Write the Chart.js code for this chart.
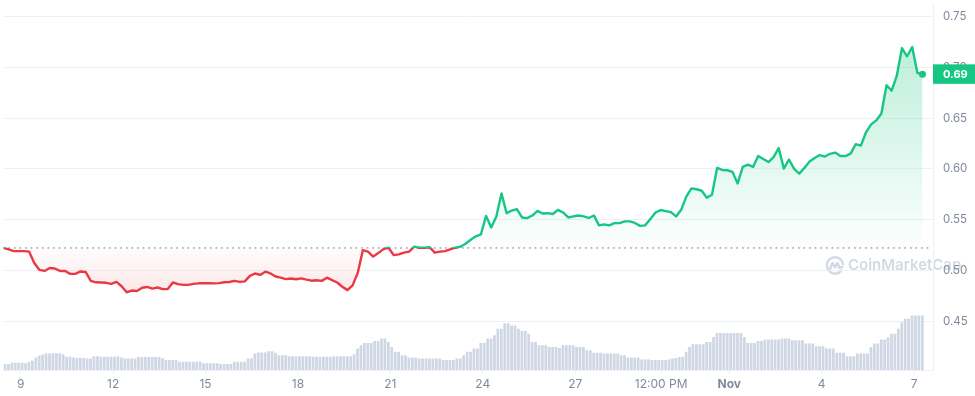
<!DOCTYPE html>
<html>
<head>
<meta charset="utf-8">
<script src="https://cdn.jsdelivr.net/npm/chart.js@4.4.1/dist/chart.umd.min.js"></script>
<style>
  html, body { margin: 0; padding: 0; background: #fff; }
</style>
</head>
<body>
<canvas id="chartPrice" width="975" height="396"></canvas>
<script>
// x axis is a day number counted from Oct 1 (so Nov 1 = 32, Nov 7 = 38)
const xTickDays = [9, 12, 15, 18, 21, 24, 27, 29.79, 32, 35, 38];
const xTickLabels = ['9', '12', '15', '18', '21', '24', '27', '12:00 PM', 'Nov', '4', '7'];
const yTickValues = [0.45, 0.50, 0.55, 0.60, 0.65, 0.70, 0.75];

// price (USD), one point every 4 hours
const priceStartDay = 8.44;
const priceStepDays = 1 / 6;
const prices = [
  0.5222, 0.5207, 0.5190, 0.5190, 0.5190, 0.5185, 0.5073, 0.5005, 0.4995, 0.5024,
  0.5019, 0.4995, 0.4995, 0.4966, 0.4966, 0.4990, 0.4985, 0.4897, 0.4883, 0.4881,
  0.4878, 0.4868, 0.4887, 0.4844, 0.4785, 0.4802, 0.4798, 0.4829, 0.4837, 0.4821,
  0.4832, 0.4816, 0.4816, 0.4881, 0.4865, 0.4858, 0.4858, 0.4868, 0.4873, 0.4873,
  0.4873, 0.4872, 0.4875, 0.4883, 0.4886, 0.4897, 0.4887, 0.4892, 0.4946, 0.4970,
  0.4956, 0.4988, 0.4970, 0.4940, 0.4929, 0.4914, 0.4920, 0.4913, 0.4922, 0.4909,
  0.4899, 0.4903, 0.4897, 0.4929, 0.4904, 0.4881, 0.4839, 0.4806, 0.4853, 0.4975,
  0.5200, 0.5185, 0.5136, 0.5171, 0.5210, 0.5224, 0.5151, 0.5158, 0.5175, 0.5185,
  0.5234, 0.5224, 0.5224, 0.5229, 0.5175, 0.5185, 0.5190, 0.5207, 0.5224, 0.5234,
  0.5263, 0.5302, 0.5336, 0.5356, 0.5537, 0.5424, 0.5532, 0.5759, 0.5564, 0.5590,
  0.5605, 0.5522, 0.5515, 0.5541, 0.5587, 0.5561, 0.5564, 0.5556, 0.5597, 0.5571,
  0.5522, 0.5532, 0.5541, 0.5532, 0.5517, 0.5541, 0.5444, 0.5454, 0.5444, 0.5466,
  0.5466, 0.5483, 0.5483, 0.5468, 0.5439, 0.5444, 0.5507, 0.5571, 0.5595, 0.5585,
  0.5574, 0.5532, 0.5597, 0.5727, 0.5808, 0.5800, 0.5785, 0.5717, 0.5746, 0.6010,
  0.5990, 0.5987, 0.5971, 0.5857, 0.6020, 0.6042, 0.6020, 0.6127, 0.6098, 0.6068,
  0.6117, 0.6205, 0.6003, 0.6093, 0.6000, 0.5954, 0.6010, 0.6073, 0.6107, 0.6137,
  0.6122, 0.6149, 0.6161, 0.6127, 0.6127, 0.6151, 0.6244, 0.6229, 0.6361, 0.6439,
  0.6478, 0.6547, 0.6825, 0.6771, 0.6918, 0.7191, 0.7110, 0.7201, 0.6947, 0.6932
];

// volume (M USD), one bar every 2h40
const volumeStartDay = 8.49;
const volumeStepDays = 1 / 9;
const volumes = [
  6, 6, 7.3, 7.3, 7.3, 7.3, 6.7, 8, 9.3, 12.5,
  14.7, 15.7, 16.7, 16.7, 17, 17, 17, 16, 13.5, 13.3,
  12.7, 12, 12, 12, 11.7, 11.7, 14, 14, 13.3, 13.3,
  13.3, 13.3, 13.3, 14, 12.7, 11.7, 11.7, 11.7, 11.7, 13,
  13, 13, 13, 13, 13, 13, 12, 10, 10, 10,
  10, 8.3, 8.3, 8.3, 8.3, 8.3, 8.3, 8.3, 6.7, 6.7,
  6.7, 6.7, 6.7, 6, 6, 6, 6, 8.3, 8.3, 8.3,
  8.3, 11.7, 11.7, 16.7, 17.7, 17.7, 17.7, 19, 19, 17.3,
  15, 15, 15, 14, 14, 14, 14, 14, 14, 14,
  13.3, 13.3, 13.3, 13.3, 13.3, 13.3, 14, 14, 14, 14,
  14, 14, 16, 21.7, 25, 27.3, 27.3, 27.3, 29.3, 29.3,
  31.7, 31.7, 28.3, 23.3, 18.3, 18.3, 15, 15, 12.7, 12.7,
  12.7, 11.7, 11.7, 11.7, 11.7, 11.7, 11.7, 11.7, 10, 10,
  10, 10, 11.7, 11.7, 15, 18.3, 18.3, 21.7, 21.7, 27.3,
  27.3, 31.7, 31.7, 35, 41.7, 41.7, 47.3, 47.3, 45, 45,
  41.7, 39.3, 39.3, 36.7, 28.3, 28.3, 25, 25, 25, 23.3,
  23.3, 23.3, 22.3, 25, 25, 25, 25, 23.3, 23.3, 23.3,
  20, 20, 17.3, 17.3, 17.3, 16.7, 16.7, 16.7, 16.7, 16.7,
  15, 15, 12.7, 12.7, 12.7, 12.7, 10.7, 10.7, 10.7, 10,
  10, 10, 10, 10, 10.7, 11.5, 12, 13, 13.3, 18.3,
  23.3, 26, 26, 26, 26, 28.3, 28.3, 33.3, 37.3, 37.3,
  37.3, 37.3, 37.3, 37.3, 37.3, 37.3, 33.3, 27.3, 27.3, 27.3,
  29.3, 29.3, 30.7, 30.7, 30.7, 30.7, 30.7, 31.7, 31.7, 31.7,
  30, 30, 30, 30, 26.7, 26.7, 26.7, 24, 24, 24,
  21.7, 21.7, 21.7, 17.3, 17.3, 17.3, 14, 14, 14, 16.7,
  16.7, 16.7, 16.7, 23.3, 26.7, 26.7, 30.7, 30.7, 33, 36.7,
  36.7, 41.7, 48.3, 51.7, 51.7, 55, 55, 55, 55
];

const GREEN = '#16c784';
const RED = '#ea3943';
const TEXT = '#808a9d';
const GRID = '#eff2f5';

const X_MIN = 8.4405;
const X_MAX = 38.615;
const Y_MIN = 0.4019;
const Y_MAX = 0.7630;

const baseline = prices[0];
const lastPrice = prices[prices.length - 1];

const priceData = prices.map((p, i) => ({ x: priceStartDay + i * priceStepDays, y: p }));
const volumeData = volumes.map((v, i) => ({ x: volumeStartDay + i * volumeStepDays, y: v }));

function baselineStop(chart) {
  const area = chart.chartArea;
  const y0 = chart.scales.y.getPixelForValue(baseline);
  return Math.min(1, Math.max(0, (y0 - area.top) / (area.bottom - area.top)));
}

// green above the opening price, red below
function lineColor(ctx) {
  const chart = ctx.chart;
  const area = chart.chartArea;
  if (!area) return GREEN;
  const f = baselineStop(chart);
  const g = chart.ctx.createLinearGradient(0, area.top, 0, area.bottom);
  g.addColorStop(0, GREEN);
  g.addColorStop(f, GREEN);
  g.addColorStop(f, RED);
  g.addColorStop(1, RED);
  return g;
}

function fillColor(ctx) {
  const chart = ctx.chart;
  const area = chart.chartArea;
  if (!area) return 'rgba(22,199,132,0.1)';
  const f = baselineStop(chart);
  const g = chart.ctx.createLinearGradient(0, area.top, 0, area.bottom);
  g.addColorStop(0, 'rgba(22,199,132,0.34)');
  g.addColorStop(f, 'rgba(22,199,132,0.01)');
  g.addColorStop(f, 'rgba(234,57,67,0.01)');
  g.addColorStop(1, 'rgba(234,57,67,0.30)');
  return g;
}

// faint CoinMarketCap watermark, under everything
const watermark = {
  id: 'watermark',
  beforeDraw(chart) {
    const c = chart.ctx;
    const area = chart.chartArea;
    const cx = area.right - 98;
    const cy = chart.scales.y.getPixelForValue(0.5) - 5;
    c.save();
    c.strokeStyle = '#d3d9e4';
    c.lineWidth = 2.4;
    c.lineCap = 'round';
    c.lineJoin = 'round';
    c.beginPath();
    c.arc(cx, cy, 8.2, 0.2 * Math.PI, 1.95 * Math.PI, false);
    c.stroke();
    c.beginPath();
    c.moveTo(cx - 5, cy + 3.5);
    c.lineTo(cx - 2.5, cy - 2.5);
    c.lineTo(cx, cy + 2);
    c.lineTo(cx + 2.5, cy - 2.5);
    c.lineTo(cx + 4.5, cy + 2.5);
    c.lineTo(cx + 7.5, cy + 1.5);
    c.stroke();
    c.fillStyle = '#d3d9e4';
    c.font = '600 15px Inter';
    c.textBaseline = 'middle';
    c.fillText('CoinMarketCap', cx + 13, cy + 0.5);
    c.restore();
  }
};

// current price tag on the right axis
const priceTag = {
  id: 'priceTag',
  afterDraw(chart) {
    const c = chart.ctx;
    const area = chart.chartArea;
    const y = chart.scales.y.getPixelForValue(lastPrice);
    c.save();
    c.fillStyle = GREEN;
    c.fillRect(area.right, y - 10, 42, 19.5);
    c.fillStyle = '#ffffff';
    c.font = 'bold 11px Inter';
    c.textBaseline = 'middle';
    c.fillText(lastPrice.toFixed(2), area.right + 10, y);
    c.restore();
  }
};

new Chart(document.getElementById('chartPrice'), {
  type: 'line',
  data: {
    datasets: [
      {
        label: 'Price',
        data: priceData,
        borderColor: lineColor,
        backgroundColor: fillColor,
        borderWidth: 2.4,
        borderJoinStyle: 'round',
        tension: 0,
        fill: { target: { value: baseline } },
        pointRadius: ctx => (ctx.dataIndex === prices.length - 1 ? 3.5 : 0),
        pointBackgroundColor: GREEN,
        pointBorderWidth: 0,
        pointHoverRadius: 0,
        order: 0
      },
      {
        label: 'Open',
        data: [{ x: X_MIN, y: baseline }, { x: X_MAX, y: baseline }],
        borderColor: '#a1a7bb',
        borderWidth: 1.8,
        borderDash: [0.1, 5.5],
        borderCapStyle: 'round',
        pointRadius: 0,
        fill: false,
        order: 1
      },
      {
        type: 'bar',
        label: 'Volume',
        data: volumeData,
        yAxisID: 'yv',
        backgroundColor: '#cfd6e4',
        barPercentage: 0.8,
        categoryPercentage: 1,
        order: 2
      }
    ]
  },
  options: {
    responsive: false,
    animation: false,
    events: [],
    layout: { padding: 0 },
    plugins: { legend: { display: false }, tooltip: { enabled: false } },
    scales: {
      x: {
        type: 'linear',
        min: X_MIN,
        max: X_MAX,
        offset: false,
        grid: { display: true, drawOnChartArea: false, drawTicks: true, tickLength: 4, color: GRID, offset: false },
        border: { display: true, color: GRID },
        ticks: {
          autoSkip: false,
          maxRotation: 0,
          padding: 3,
          color: TEXT,
          font: ctx => ({ family: 'Inter', size: 12, weight: xTickLabels[ctx.index] === 'Nov' ? 'bold' : 'normal' }),
          callback: (v, i) => xTickLabels[i]
        },
        afterBuildTicks: s => { s.ticks = xTickDays.map(v => ({ value: v })); },
        afterFit: s => { s.height = 26; }
      },
      y: {
        position: 'right',
        min: Y_MIN,
        max: Y_MAX,
        grid: { color: GRID, drawTicks: false },
        border: { display: true, color: GRID },
        ticks: {
          padding: 10,
          color: TEXT,
          font: { family: 'Inter', size: 11.5 },
          callback: v => v.toFixed(2)
        },
        afterBuildTicks: s => { s.ticks = yTickValues.map(v => ({ value: v })); },
        afterFit: s => { s.width = 42; s.paddingTop = 0; s.paddingBottom = 0; }
      },
      yv: {
        display: false,
        min: 0,
        max: 370
      }
    }
  },
  plugins: [watermark, priceTag]
});
</script>
</body>
</html>
